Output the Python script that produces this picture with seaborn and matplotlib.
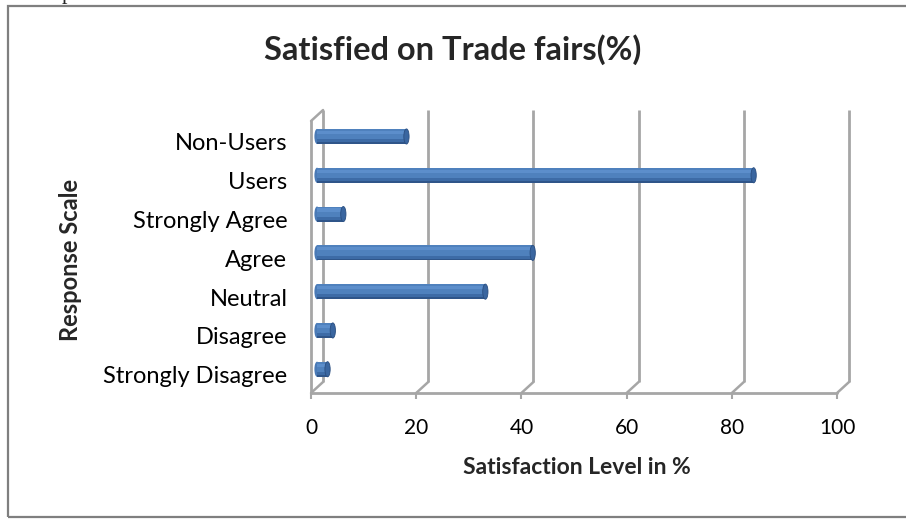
import matplotlib
matplotlib.use("Agg")
import matplotlib.pyplot as plt
from matplotlib.transforms import ScaledTranslation
from matplotlib.patches import Ellipse, Rectangle
import seaborn as sns
import pandas as pd

# Survey data
categories = ["Non-Users", "Users", "Strongly Agree", "Agree", "Neutral",
              "Disagree", "Strongly Disagree"]
satisfaction = [17, 83, 5, 41, 32, 3, 2]
x_ticks = [0, 20, 40, 60, 80, 100]
x_tick_labels = ["0", "20", "40", "60", "80", "100"]

title = "Satisfied on Trade fairs(%)"
x_title = "Satisfaction Level in %"
y_title = "Response Scale"

df = pd.DataFrame({"category": categories, "value": satisfaction})

sns.set_theme(style="white")
plt.rcParams["font.family"] = ["Lato", "DejaVu Sans"]

DPI = 100
fig = plt.figure(figsize=(9.06, 5.19), dpi=DPI)
ax = fig.add_axes([0.3433, 0.2428, 0.5806, 0.524])

bar_color = "#4F81BD"
sns.barplot(data=df, x="value", y="category", order=categories,
            color=bar_color, width=0.39, saturation=1, ax=ax,
            edgecolor="none", linewidth=0)

ax.set_xlim(0, 100)
ax.set_ylim(6.47, -0.54)

# pseudo-3D depth offsets (pixels)
def shifted(dx, dy):
    return ax.transData + ScaledTranslation(dx / DPI, dy / DPI, fig.dpi_scale_trans)

back = shifted(12, 11)
mid = shifted(6, 5.5)
to_data = ax.transData.inverted()

grid_col = "#A6A6A6"
y_floor, y_top = 6.47, -0.54

# back wall gridlines
for xv in x_ticks:
    ax.plot([xv, xv], [y_floor, y_top], color=grid_col, lw=2.0,
            transform=back, clip_on=False, zorder=1, solid_capstyle="butt")
# floor diagonals joining front ticks with back gridlines
for xv in x_ticks:
    b = to_data.transform(back.transform((xv, y_floor)))
    ax.plot([xv, b[0]], [y_floor, b[1]], color=grid_col, lw=1.8,
            clip_on=False, zorder=1)
# left wall front edge and top diagonal
ax.plot([0, 0], [y_floor, y_top], color=grid_col, lw=2.0, clip_on=False, zorder=1)
pt = to_data.transform(back.transform((0, y_top)))
ax.plot([0, pt[0]], [y_top, pt[1]], color=grid_col, lw=1.8, clip_on=False, zorder=1)
# front floor edge
ax.plot([0, 100], [y_floor, y_floor], color=grid_col, lw=2.0, clip_on=False, zorder=1)

# bars drawn at mid depth with a cylindrical look
cap_w = 1.0
for patch in list(ax.patches):
    patch.set_transform(mid)
    patch.set_zorder(3)
    x0 = patch.get_x()
    w = patch.get_width()
    yb = patch.get_y()
    h = patch.get_height()
    # shaded lower part
    ax.add_patch(Rectangle((x0, yb + h * 0.68), w, h * 0.32, color="#3D6BA6",
                           transform=mid, zorder=4, lw=0))
    ax.add_patch(Rectangle((x0, yb + h * 0.88), w, h * 0.12, color="#2F5589",
                           transform=mid, zorder=4, lw=0))
    # soft highlight near the top
    ax.add_patch(Rectangle((x0, yb + h * 0.12), w, h * 0.22, color="#5C8ECB",
                           transform=mid, zorder=4, lw=0))
    # rounded start and end caps
    ax.add_patch(Ellipse((x0, yb + h / 2), cap_w, h, facecolor="#4A7AB6",
                         edgecolor="none", transform=mid, zorder=2))
    ax.add_patch(Ellipse((x0 + w, yb + h / 2), cap_w, h, facecolor="#3A66A0",
                         edgecolor="#2A4E80", lw=0.6, transform=mid, zorder=5))

for s in ax.spines.values():
    s.set_visible(False)

ax.set_xticks(x_ticks)
ax.set_xticklabels(x_tick_labels)
ax.tick_params(axis="x", direction="out", length=4, width=1.5, color=grid_col,
               pad=14, labelsize=15, labelcolor="black", bottom=True)
ax.tick_params(axis="y", length=0, pad=17, labelsize=17, labelcolor="black")
for lbl in ax.get_yticklabels():
    lbl.set_horizontalalignment("right")
ax.set_xlabel("")
ax.set_ylabel("")
ax.grid(False)
ax.set_facecolor("none")

fig.text(453 / 906, 1 - 50 / 519, title, ha="center", va="center",
         fontsize=23.5, fontweight="bold")
fig.text(577 / 906, 1 - 468 / 519, x_title, ha="center", va="center",
         fontsize=16.5, fontweight="bold")
fig.text(70 / 906, 1 - 260 / 519, y_title, ha="center", va="center",
         rotation=90, fontsize=17, fontweight="bold")

# outer chart frame
fig.patches.append(Rectangle((8 / 906, 1 - 517 / 519), 1.2, (517 - 6) / 519,
                             transform=fig.transFigure, fill=False,
                             edgecolor="#7F7F7F", lw=1.6, zorder=10))
# text fragment from the page above
fig.text(67 / 906, 1.0 + 1 / 519, "p", family="Liberation Serif", fontsize=16,
         ha="center", va="baseline")

fig.savefig("out.png", dpi=DPI)
